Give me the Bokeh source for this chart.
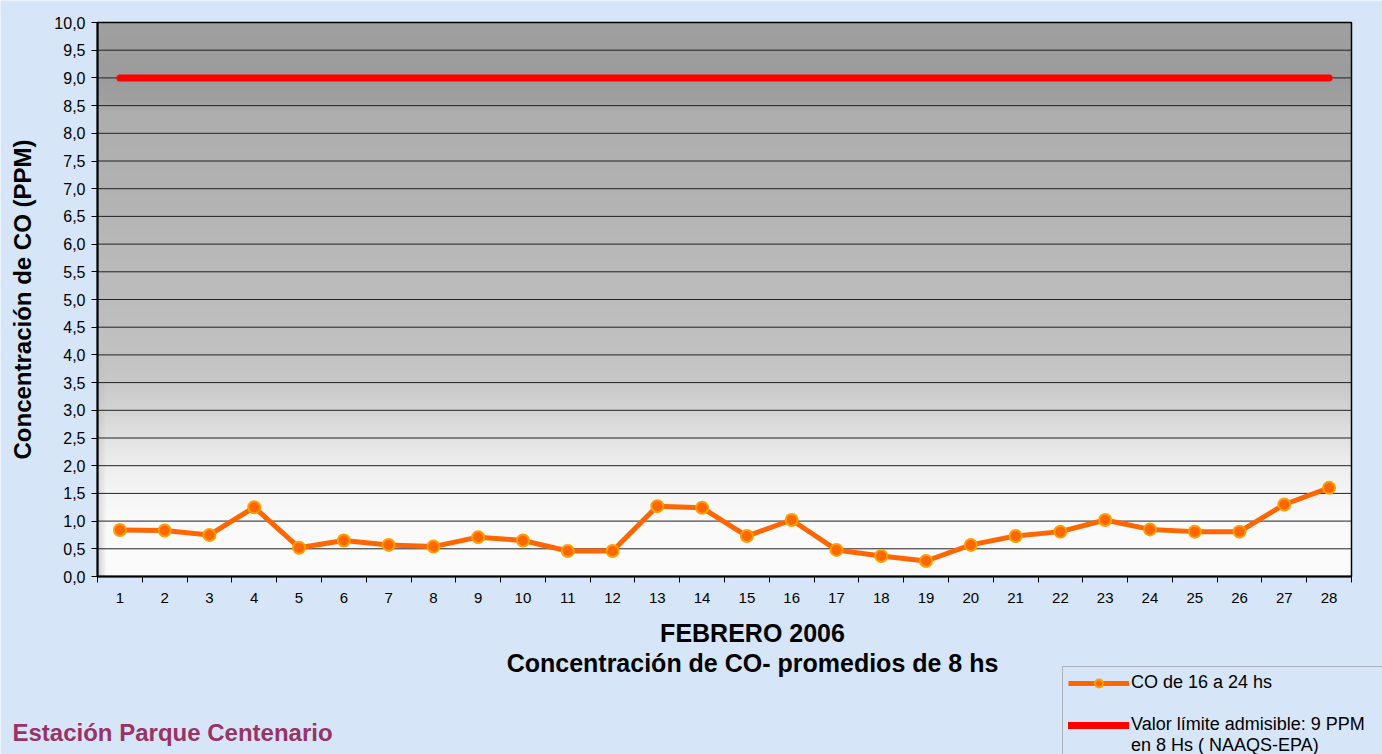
import numpy as np
from bokeh.plotting import figure
from bokeh.models import Range1d, FixedTicker, Legend, LegendItem, Label
from bokeh.embed import file_html
from bokeh.resources import INLINE

# ---------------- data ----------------
days = list(range(1, 29))
day_labels = [str(d) for d in days]
co_16_24 = [0.84, 0.83, 0.75, 1.25, 0.52, 0.65, 0.57, 0.54, 0.71, 0.65,
            0.46, 0.46, 1.27, 1.24, 0.73, 1.02, 0.48, 0.37, 0.28, 0.57,
            0.73, 0.81, 1.02, 0.85, 0.81, 0.81, 1.30, 1.60]
limit_value = 9.0
limit_series = [limit_value] * len(days)
y_ticks = [i * 0.5 for i in range(21)]
y_tick_labels = ["0,0", "0,5", "1,0", "1,5", "2,0", "2,5", "3,0", "3,5", "4,0",
                 "4,5", "5,0", "5,5", "6,0", "6,5", "7,0", "7,5", "8,0", "8,5",
                 "9,0", "9,5", "10,0"]
series_names = ["CO de 16 a 24 hs",
                "Valor límite admisible: 9 PPM\nen 8 Hs ( NAAQS-EPA)"]
title_line1 = "FEBRERO 2006"
title_line2 = "Concentración de CO- promedios de 8 hs"
station = "Estación Parque Centenario"
y_title = "Concentración de CO (PPM)"

# ---------------- layout (pixels) ----------------
W, H = 1382, 754
PL, PR, PT, PB = 97, 1351, 22, 576     # plot-area edges on the canvas
X0, X1 = 0.5, 28.5                     # category extent
Y0, Y1 = 0.0, 10.0
xs = (PR - PL) / (X1 - X0)
ys = (PB - PT) / (Y1 - Y0)

FONT = "Liberation Sans"
BG = "#d6e6f8"

p = figure(width=W, height=H, output_backend="svg", toolbar_location=None,
           x_range=Range1d(X0 - PL / xs, X1 + (W - PR) / xs),
           y_range=Range1d(Y0 - (H - PB) / ys, Y1 + PT / ys),
           min_border=0)
p.background_fill_color = BG
p.border_fill_color = BG
p.outline_line_color = None
p.grid.visible = False

# plot-area grey gradient (decorative background)
stops_v = [0.0, 1.0, 1.5, 2.0, 2.5, 3.0, 3.5, 4.0, 5.0, 6.0, 7.0, 8.4, 8.6, 9.0, 10.0]
stops_g = [252, 250, 245, 238, 226, 212, 200, 194, 188, 184, 178, 174, 160, 156, 160]
ny, nx = 300, 600
yy = np.linspace(Y0, Y1, ny)
g = np.interp(yy, stops_v, stops_g)[:, None] * np.ones((1, nx))
xx = np.arange(nx)
shadow = np.clip(1 - xx / 4.0, 0, 1)[None, :] * np.clip((4 - yy) / 4, 0, 1)[:, None] * 45
g = np.clip(g - shadow, 0, 255).astype(np.uint32)
img = np.zeros((ny, nx), dtype=np.uint32)
view = img.view(dtype=np.uint8).reshape((ny, nx, 4))
view[:, :, 0] = g
view[:, :, 1] = g
view[:, :, 2] = g
view[:, :, 3] = 255
p.image_rgba(image=[img], x=X0, y=Y0, dw=X1 - X0, dh=Y1 - Y0, level="image")

# horizontal grid lines limited to the plot area
p.segment(x0=X0, x1=X1, y0=y_ticks, y1=y_ticks, line_color="#222222",
          line_width=1, level="underlay")
# plot-area border
p.quad(left=X0, right=X1, bottom=Y0, top=Y1, fill_color=None,
       line_color="black", line_width=1.5)

# y axis
yax = p.yaxis[0]
yax.fixed_location = X0
yax.bounds = (Y0, Y1)
yax.ticker = FixedTicker(ticks=y_ticks)
yax.major_label_overrides = {t: l for t, l in zip(y_ticks, y_tick_labels)}
yax.major_label_text_font = FONT
yax.major_label_text_font_size = "16px"
yax.major_label_text_color = "black"
yax.major_tick_in = 0
yax.major_tick_out = 6
yax.major_label_standoff = 6
yax.minor_tick_line_color = None
yax.axis_line_width = 2
yax.axis_label = y_title
yax.axis_label_text_font = FONT
yax.axis_label_text_font_style = "bold"
yax.axis_label_text_font_size = "24px"
yax.axis_label_text_color = "black"
yax.axis_label_standoff = 15

# x axis
xax = p.xaxis[0]
xax.fixed_location = Y0
xax.bounds = (X0, X1)
xax.ticker = FixedTicker(ticks=days, minor_ticks=[d - 0.5 for d in days] + [X1])
xax.major_label_overrides = {d: l for d, l in zip(days, day_labels)}
xax.major_label_text_font = FONT
xax.major_label_text_font_size = "15px"
xax.major_label_text_color = "black"
xax.major_tick_line_color = None
xax.major_tick_in = 0
xax.major_tick_out = 0
xax.major_label_standoff = 10
xax.minor_tick_in = 0
xax.minor_tick_out = 6
xax.minor_tick_line_color = "black"
xax.axis_line_width = 2

# series
r_lim = p.line(days, limit_series, line_color="#ff0000", line_width=7,
               line_cap="round")
r_line = p.line(days, co_16_24, line_color="#ff6600", line_width=5,
                line_join="round")
r_pts = p.scatter(days, co_16_24, size=12, marker="circle",
                  fill_color="#ff6600", line_color="#ffa000", line_width=2)

legend = Legend(items=[LegendItem(label=series_names[0], renderers=[r_line, r_pts]),
                       LegendItem(label="\n" + series_names[1], renderers=[r_lim])],
                location=(1062, -8))
legend.label_text_font = FONT
legend.label_text_font_size = "18px"
legend.label_text_line_height = 1.0
legend.label_text_color = "black"
legend.label_width = 250
legend.glyph_width = 61
legend.glyph_height = 20
legend.label_standoff = 2
legend.padding = 5
legend.spacing = 0
legend.margin = 0
legend.border_line_color = "#7f7f7f"
legend.border_line_width = 1.5
legend.background_fill_alpha = 0
p.add_layout(legend, "center")

# titles (screen units: from the canvas bottom-left)
for txt, sy in [(title_line1, H - 632), (title_line2, H - 662)]:
    p.add_layout(Label(x=752, y=sy, x_units="screen", y_units="screen", text=txt,
                       text_align="center", text_baseline="middle", text_font=FONT,
                       text_font_style="bold", text_font_size="25px",
                       text_color="black"))
p.add_layout(Label(x=12, y=H - 732, x_units="screen", y_units="screen", text=station,
                   text_align="left", text_baseline="middle", text_font=FONT,
                   text_font_style="bold", text_font_size="24px",
                   text_color="#993366"))

open("out.html", "w").write(file_html(p, INLINE))
